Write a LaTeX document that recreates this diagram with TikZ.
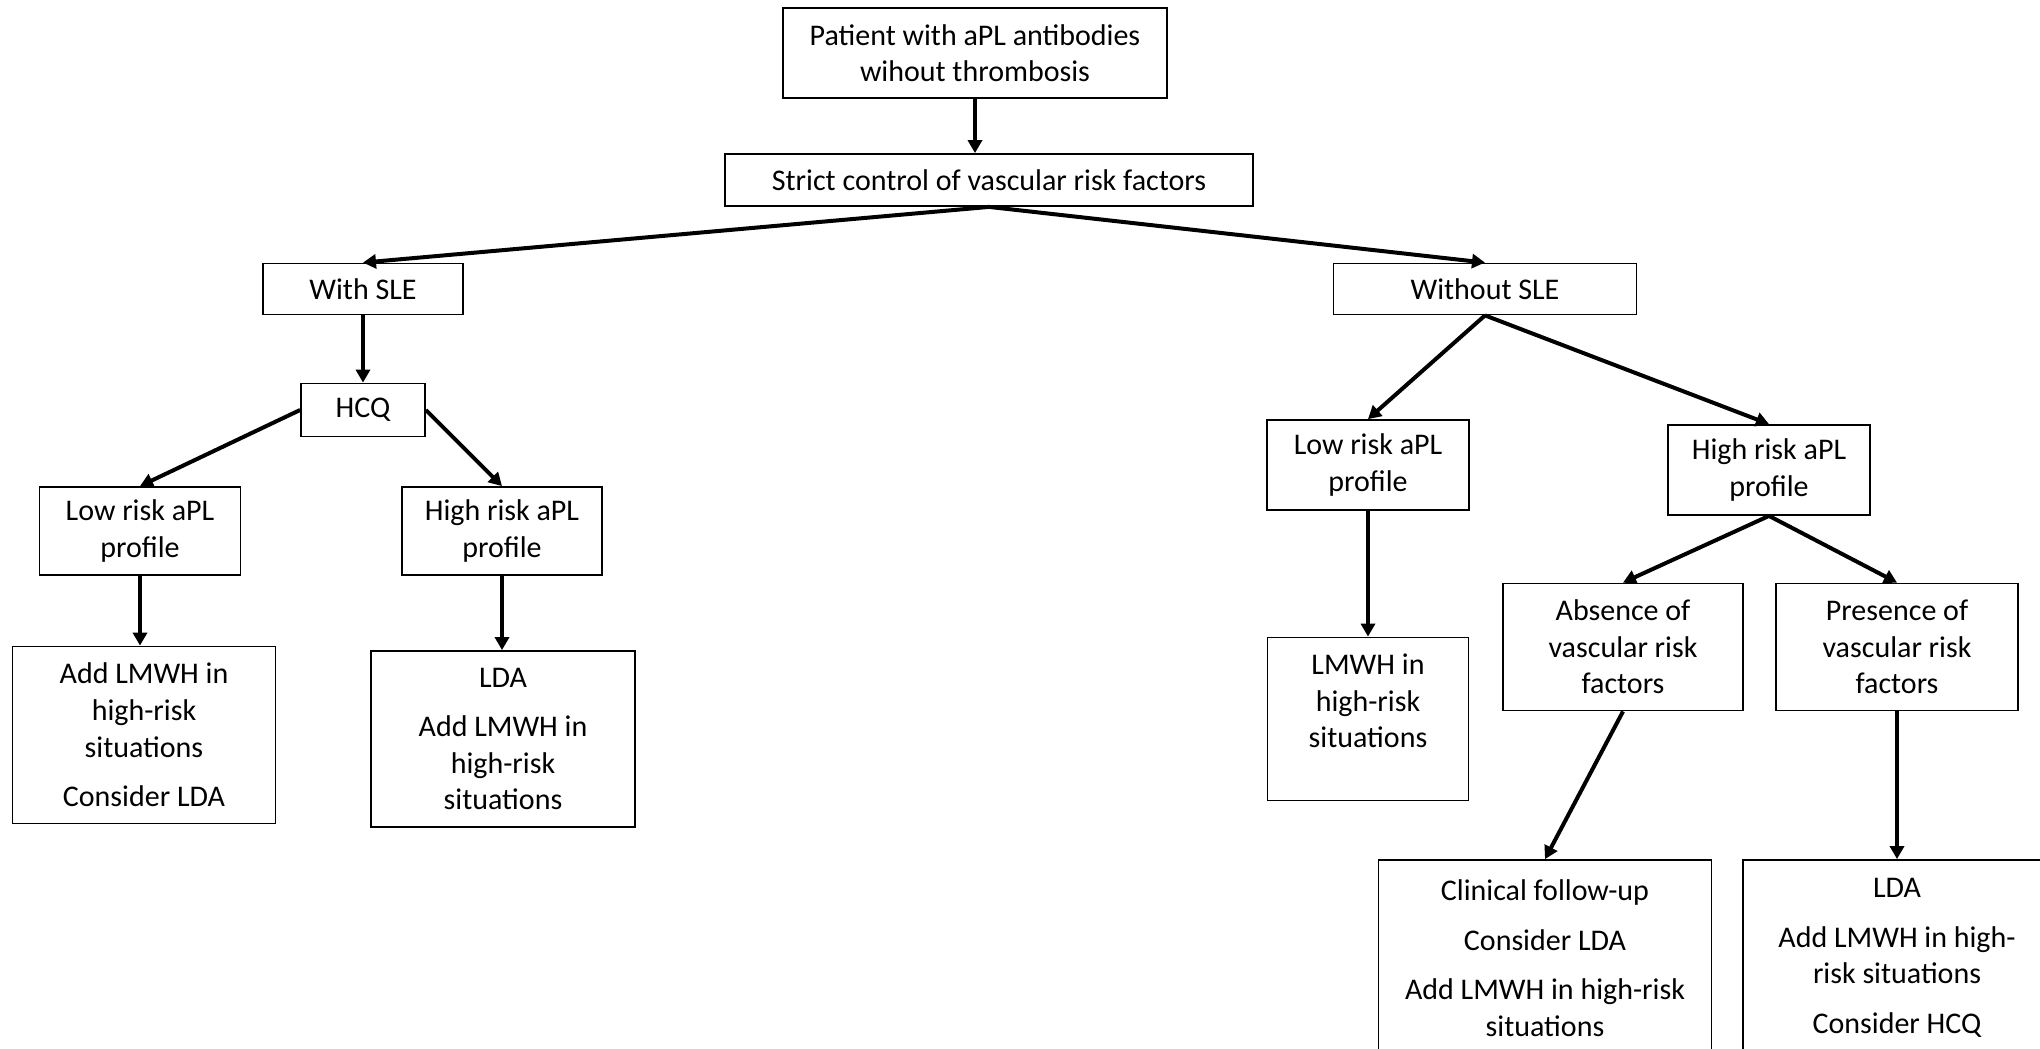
\documentclass[tikz,border=0pt]{standalone}
\usepackage{fontspec}
\setmainfont{Carlito}
\usetikzlibrary{arrows.meta}

\begin{document}
\begin{tikzpicture}[x=0.5pt,y=-0.5pt,
  box/.style={draw, line width=0.9pt, fill=white, align=center, inner sep=2pt,
    font=\fontsize{15pt}{18.3pt}\selectfont},
  arr/.style={line width=2pt, -{Triangle[length=6.5pt,width=7pt]}}]
\useasboundingbox (0,0) rectangle (2040,1049);
\clip (0,0) rectangle (2040,1049);

\node [box, minimum width=192pt, minimum height=45pt] (patient) at (975,53) {Patient with aPL antibodies\\wihout thrombosis};
\node [box, minimum width=264pt, minimum height=26pt] (strict) at (989,180) {Strict control of vascular risk factors};

% with SLE
\node [box, minimum width=100pt, minimum height=25.5pt] (withsle) at (363,289) {With SLE};
\node [box, minimum width=62pt, minimum height=26.5pt] (hcq) at (363,410) {HCQ};
\node [box, minimum width=100.5pt, minimum height=44pt] (lowL) at (140,531) {Low risk aPL\\profile};
\node [box, minimum width=100pt, minimum height=44pt] (highL) at (502,531) {High risk aPL\\profile};
\node [box, minimum width=131.5pt, minimum height=88.5pt] (lmwhL) at (144,735) {Add LMWH in\\high-risk\\situations\\[6.5pt]Consider LDA};
\node [box, minimum width=132pt, minimum height=88pt] (ldaL) at (503,739) {LDA\\[6.5pt]Add LMWH in\\high-risk\\situations};

% without SLE
\node [box, minimum width=151.5pt, minimum height=25.5pt] (withoutsle) at (1485,289) {Without SLE};
\node [box, minimum width=101pt, minimum height=45pt] (lowR) at (1368,465) {Low risk aPL\\profile};
\node [box, minimum width=101pt, minimum height=45pt] (highR) at (1769,470) {High risk aPL\\profile};
\node [box, minimum width=100.5pt, minimum height=81.5pt] (lmwhR) at (1368,719) {LMWH in\\high-risk\\situations\\\mbox{}};
\node [box, minimum width=120pt, minimum height=63.5pt] (absence) at (1623,647) {Absence of\\vascular risk\\factors};
\node [box, minimum width=121pt, minimum height=63.5pt] (presence) at (1897,647) {Presence of\\vascular risk\\factors};
\node [box, minimum width=166.5pt, minimum height=98pt] (clinical) at (1545,958) {Clinical follow-up\\[6.5pt]Consider LDA\\[6.5pt]Add LMWH in high-risk\\situations};
\node [box, minimum width=154pt, minimum height=98pt] (ldaR) at (1897,958) {LDA\\[6.5pt]Add LMWH in high-\\risk situations\\[6.5pt]Consider HCQ};

\draw [arr] (patient.south) -- (patient.south |- strict.north);
\draw [arr] (strict.south) -- (withsle.north);
\draw [arr] (strict.south) -- (withoutsle.north);
\draw [arr] (withsle) -- (hcq);
\draw [arr] (hcq.west) -- (lowL.north);
\draw [arr] (hcq.east) -- (highL.north);
\draw [arr] (lowL.south) -- (lowL.south |- lmwhL.north);
\draw [arr] (highL.south) -- (highL.south |- ldaL.north);
\draw [arr] (withoutsle.south) -- (lowR.north);
\draw [arr] (withoutsle.south) -- (highR.north);
\draw [arr] (lowR) -- (lmwhR);
\draw [arr] (highR.south) -- (absence.north);
\draw [arr] (highR.south) -- (presence.north);
\draw [arr] (absence.south) -- (clinical.north);
\draw [arr] (presence) -- (ldaR);
\end{tikzpicture}
\end{document}
